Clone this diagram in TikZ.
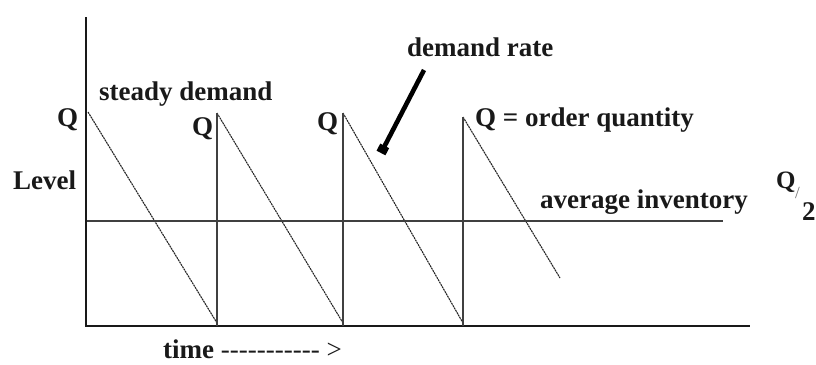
\documentclass[tikz,border=0pt]{standalone}
\usepackage{fontspec}
\setmainfont{Liberation Serif}
\newfontfamily\dashfont{Liberation Serif}
\usetikzlibrary{arrows.meta}
\begin{document}
\begin{tikzpicture}[x=1pt,y=-1pt,
  lbl/.style={font=\fontsize{27}{30}\selectfont\bfseries, inner sep=0pt, anchor=base west, text=black!90},
  axis/.style={line width=2.8pt, black!90, line join=miter},
  riser/.style={line width=1.1pt, black!75},
  drop/.style={line width=1.1pt, black!85, dash pattern=on 2pt off 0.7pt},
  avg/.style={line width=1.4pt, black!75},
  pointer/.style={line width=4.6pt, black, -{Square[length=8pt,width=10pt]}}]
\useasboundingbox (0,0) rectangle (816,364);
% axes
\coordinate (ytop) at (86,17);
\coordinate (o) at (86,326);
\coordinate (xend) at (750,326);
\draw[axis] (ytop) -- (o) -- (xend);
% sawtooth
\coordinate (p1) at (88,112);
\coordinate (b1) at (217,323);
\coordinate (r1) at (217,326);
\coordinate (p2) at (217,113);
\coordinate (b2) at (343,323);
\coordinate (r2) at (343,326);
\coordinate (p3) at (343,113);
\coordinate (b3) at (463,323);
\coordinate (r3) at (463,326);
\coordinate (p4) at (463,117);
\coordinate (e4) at (560,278);
\draw[drop] (p1) -- (b1);
\draw[drop] (p2) -- (b2);
\draw[drop] (p3) -- (b3);
\draw[drop] (p4) -- (e4);
\draw[riser] (r1) -- (p2);
\draw[riser] (r2) -- (p3);
\draw[riser] (r3) -- (p4);
% average inventory line
\coordinate (a0) at (87,221);
\coordinate (a1) at (723,221);
\draw[avg] (a0) -- (a1);
% labels
\node[lbl] (q1) at (57,126) {Q};
\node[lbl] (q2) at (192,135) {Q};
\node[lbl] (q3) at (317,130) {Q};
\node[lbl] (q4) at (475,126) {Q = order quantity};
\node[lbl] (steady) at (99,100) {steady demand};
\node[lbl] (rate) at (407,56) {demand rate};
\node[lbl] (level) at (13,189) {Level};
\node[lbl] (avgtxt) at (540,208) {average inventory};
\node[lbl] (time) at (163,358) {time {\dashfont\mdseries ----------- >}};
\node[lbl, font=\fontsize{25}{28}\selectfont\bfseries] (hq) at (776,188) {Q};
\node[lbl, font=\fontsize{17}{20}\selectfont\mdseries, text=black!55] (hslash) at (795,198) {/};
\node[lbl] (htwo) at (802,220) {2};
% arrow
\coordinate (as) at (424,70);
\coordinate (ae) at (381,153);
\draw[pointer] (as) -- (ae);
\end{tikzpicture}
\end{document}
